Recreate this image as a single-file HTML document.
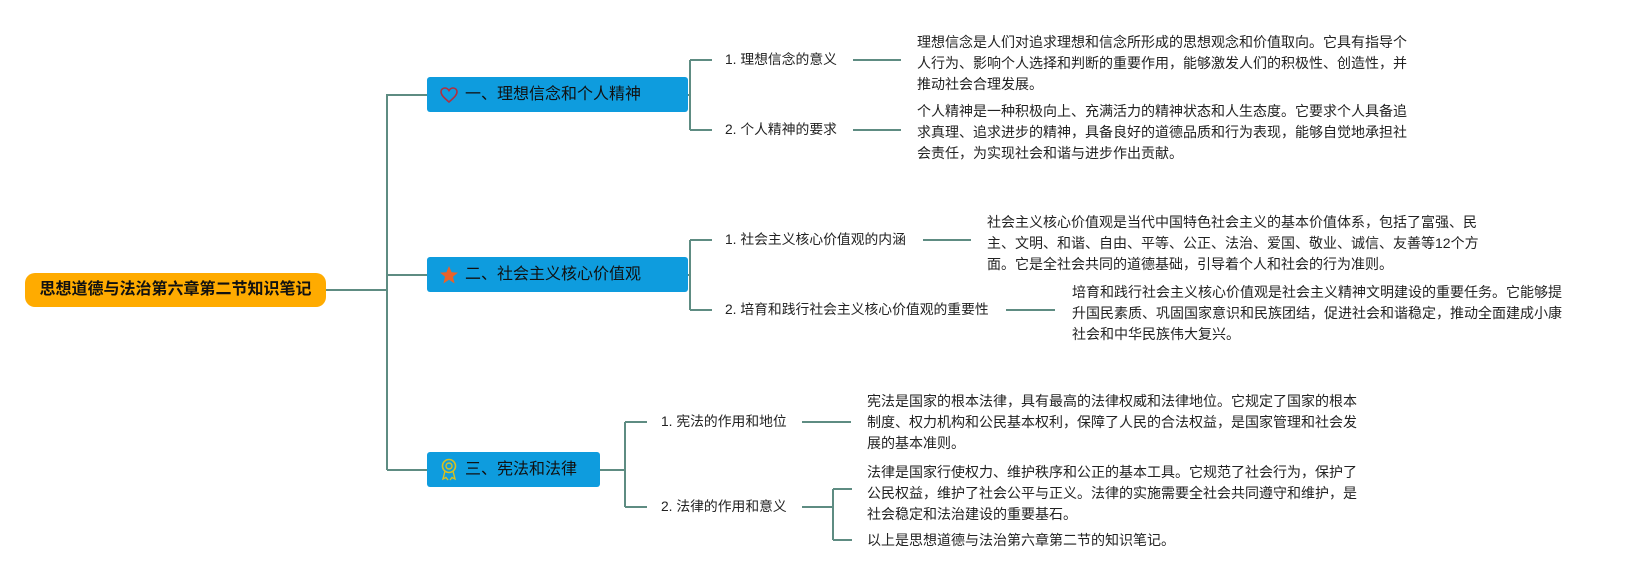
<!DOCTYPE html>
<html><head><meta charset="utf-8"><style>
body{margin:0;width:1631px;height:580px;background:#fff;position:relative;overflow:hidden;font-family:"Liberation Sans","Noto Sans CJK SC",sans-serif;color:#222}
.a{position:absolute;white-space:nowrap}
.root{left:25px;top:273px;width:301px;height:34px;background:#FFAB00;border-radius:10px;font-weight:bold;font-size:16px;line-height:34px;text-align:center;color:#111}
.box{background:#0E9CDE;border-radius:3px;height:35px;line-height:35px;font-size:16px;color:#111;padding-left:0}
.sub{font-size:13.8px;line-height:20px;transform:translateY(-10px)}
.p{font-size:14px;line-height:21px}
.ic{display:inline-block;width:28px;text-align:center;margin-left:8px;margin-right:2px;vertical-align:top}
</style></head><body>
<svg class="a" style="left:0;top:0" width="1631" height="580">
<g stroke="#5E8C82" stroke-width="2" fill="none">
<path d="M326 290H387M387 94V470M387 95H427M387 275H427M387 470H427"/>
<path d="M688 95H690M690 60V130M690 60H712M690 130H712M853 60H901M853 130H901"/>
<path d="M688 275H690M690 240V310M690 240H712M690 310H712M923 240H971M1006 310H1055"/>
<path d="M600 470H625M625 422V507M625 422H647M625 507H647M802 422H851M802 507H833M833 489V540M833 489H852M833 540H852"/>
</g></svg>
<div class="a root">思想道德与法治第六章第二节知识笔记</div>
<div class="a box" style="left:427px;top:77px;width:261px"><span class="ic"><svg width="20" height="20" viewBox="0 0 20 20" style="vertical-align:middle"><path d="M10 17C4 12 2 9.5 2 6.8 2 4.5 3.8 3 5.8 3 7.6 3 9 4 10 5.6 11 4 12.4 3 14.2 3 16.2 3 18 4.5 18 6.8 18 9.5 16 12 10 17Z" fill="none" stroke="#B03040" stroke-width="1.6"/></svg></span>一、理想信念和个人精神</div>
<div class="a box" style="left:427px;top:257px;width:261px"><span class="ic"><svg width="20" height="20" viewBox="0 0 20 20" style="vertical-align:middle"><path d="M10 1L12.6 7.2 19 7.6 14 11.8 15.6 18.5 10 14.8 4.4 18.5 6 11.8 1 7.6 7.4 7.2Z" fill="#E8632A"/></svg></span>二、社会主义核心价值观</div>
<div class="a box" style="left:427px;top:452px;width:173px"><span class="ic"><svg width="20" height="24" viewBox="0 0 20 24" style="vertical-align:middle"><circle cx="10" cy="8" r="6.5" fill="none" stroke="#D8C020" stroke-width="1.6"/><circle cx="10" cy="8" r="3" fill="none" stroke="#D8C020" stroke-width="1.4"/><path d="M6 13L4 21 7 19.5 9 22M14 13L16 21 13 19.5 11 22" fill="none" stroke="#D8C020" stroke-width="1.4"/></svg></span>三、宪法和法律</div>

<div class="a sub" style="left:725px;top:60px">1. 理想信念的意义</div>
<div class="a sub" style="left:725px;top:130px">2. 个人精神的要求</div>
<div class="a p" style="left:917px;top:32px">理想信念是人们对追求理想和信念所形成的思想观念和价值取向。它具有指导个<br>人行为、影响个人选择和判断的重要作用，能够激发人们的积极性、创造性，并<br>推动社会合理发展。</div>
<div class="a p" style="left:917px;top:101px">个人精神是一种积极向上、充满活力的精神状态和人生态度。它要求个人具备追<br>求真理、追求进步的精神，具备良好的道德品质和行为表现，能够自觉地承担社<br>会责任，为实现社会和谐与进步作出贡献。</div>

<div class="a sub" style="left:725px;top:240px">1. 社会主义核心价值观的内涵</div>
<div class="a sub" style="left:725px;top:310px">2. 培育和践行社会主义核心价值观的重要性</div>
<div class="a p" style="left:987px;top:212px">社会主义核心价值观是当代中国特色社会主义的基本价值体系，包括了富强、民<br>主、文明、和谐、自由、平等、公正、法治、爱国、敬业、诚信、友善等12个方<br>面。它是全社会共同的道德基础，引导着个人和社会的行为准则。</div>
<div class="a p" style="left:1072px;top:282px">培育和践行社会主义核心价值观是社会主义精神文明建设的重要任务。它能够提<br>升国民素质、巩固国家意识和民族团结，促进社会和谐稳定，推动全面建成小康<br>社会和中华民族伟大复兴。</div>

<div class="a sub" style="left:661px;top:422px">1. 宪法的作用和地位</div>
<div class="a sub" style="left:661px;top:507px">2. 法律的作用和意义</div>
<div class="a p" style="left:867px;top:391px">宪法是国家的根本法律，具有最高的法律权威和法律地位。它规定了国家的根本<br>制度、权力机构和公民基本权利，保障了人民的合法权益，是国家管理和社会发<br>展的基本准则。</div>
<div class="a p" style="left:867px;top:462px">法律是国家行使权力、维护秩序和公正的基本工具。它规范了社会行为，保护了<br>公民权益，维护了社会公平与正义。法律的实施需要全社会共同遵守和维护，是<br>社会稳定和法治建设的重要基石。</div>
<div class="a p" style="left:867px;top:530px">以上是思想道德与法治第六章第二节的知识笔记。</div>
</body></html>
